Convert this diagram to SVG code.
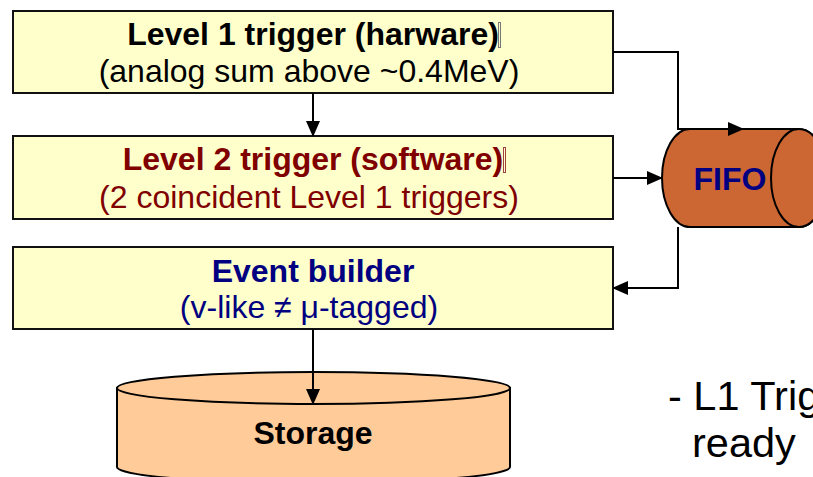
<svg xmlns="http://www.w3.org/2000/svg" width="813" height="477" viewBox="0 0 813 477">
  <style>
    .box { fill: #FFFFCC; stroke: #111; stroke-width: 2; }
    .t { font-family: "Liberation Sans", Arial, sans-serif; font-size: 32px; text-anchor: middle; }
    .b { font-weight: bold; }
    .line { fill: none; stroke: #000; stroke-width: 2; }
    .mark { fill: none; stroke-width: 1; }
  </style>
  <defs>
    <marker id="arrow" markerUnits="userSpaceOnUse" markerWidth="16" markerHeight="16" viewBox="0 0 16 14" refX="15" refY="7" orient="auto">
      <path d="M0,0 L16,7 L0,14 Z" fill="#000"/>
    </marker>
  </defs>
  <rect width="813" height="477" fill="#fff"/>

  <!-- Level 1 trigger -->
  <g id="level1">
    <rect class="box" x="13" y="11" width="600" height="82"/>
    <text class="t b" x="313" y="45" fill="#000">Level 1 trigger (harware)</text>
    <rect class="mark" x="498.5" y="22.5" width="2" height="25" stroke="#777"/>
    <text class="t" x="309" y="82" fill="#000">(analog sum above ~0.4MeV)</text>
  </g>

  <!-- Level 2 trigger -->
  <g id="level2">
    <rect class="box" x="13" y="136" width="600" height="83"/>
    <text class="t b" x="313" y="170" fill="#800000">Level 2 trigger (software)</text>
    <rect class="mark" x="503.5" y="147.5" width="2" height="25" stroke="#a04040"/>
    <text class="t" x="309" y="208" fill="#800000">(2 coincident Level 1 triggers)</text>
  </g>

  <!-- Event builder -->
  <g id="eventbuilder">
    <rect class="box" x="13" y="247" width="600" height="82"/>
    <text class="t b" x="313" y="282" fill="#000080">Event builder</text>
    <text class="t" x="309" y="318" fill="#000080">(v-like ≠ μ-tagged)</text>
  </g>

  <!-- FIFO buffer (horizontal cylinder) -->
  <g id="fifo">
    <path d="M690,129 H799 A28,49 0 0 1 799,227 H690 A28,49 0 0 1 690,129 Z" fill="#CC6633" stroke="#000" stroke-width="2"/>
    <ellipse cx="799" cy="178" rx="28" ry="49" fill="#CC6633" stroke="#000" stroke-width="2"/>
    <text class="t b" x="730" y="190" fill="#000080">FIFO</text>
  </g>

  <!-- Storage (vertical cylinder) -->
  <g id="storage">
    <path d="M117,388 V467 A196.5,16 0 0 0 510,467 V388 Z" fill="#FFCC99" stroke="#000" stroke-width="2"/>
    <ellipse cx="313.5" cy="388" rx="196.5" ry="16" fill="#FFCC99" stroke="#000" stroke-width="2"/>
    <text class="t b" x="313" y="444" fill="#000">Storage</text>
  </g>

  <!-- Connectors -->
  <g id="connectors">
    <path class="line" d="M313,93 V136" marker-end="url(#arrow)"/>
    <path class="line" d="M613,52 H678 V129 H743" marker-end="url(#arrow)"/>
    <path class="line" d="M613,178 H662" marker-end="url(#arrow)"/>
    <path class="line" d="M678,227 V288 H613" marker-end="url(#arrow)"/>
    <path class="line" d="M313,329 V404" marker-end="url(#arrow)"/>
  </g>

  <!-- Side note -->
  <g id="note" font-family="Liberation Sans, Arial, sans-serif" font-size="41.5" fill="#000">
    <text x="668" y="410">- L1 Trig</text>
    <text x="692" y="457">ready</text>
  </g>
</svg>
